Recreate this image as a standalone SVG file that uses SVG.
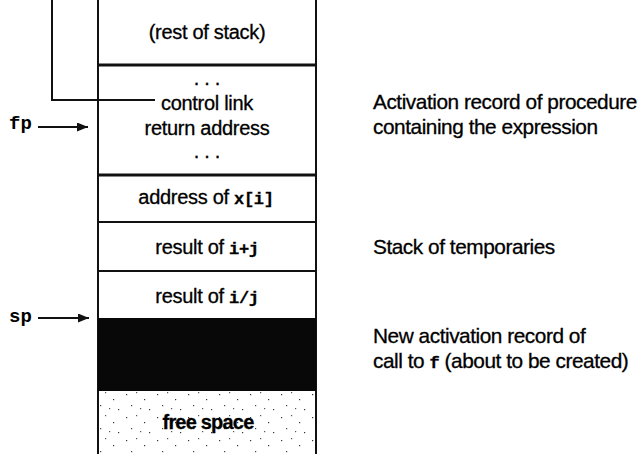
<svg xmlns="http://www.w3.org/2000/svg" width="643" height="454" viewBox="0 0 643 454">
<style>
.t{font-family:"Liberation Sans",Arial,sans-serif;font-size:20px;fill:#000;letter-spacing:-0.3px;stroke:#000;stroke-width:0.3px}
.a{font-size:20.8px;letter-spacing:-0.45px}
.c{text-anchor:middle}
.m{font-family:"Liberation Mono","Courier New",monospace;font-weight:bold;font-size:17px}
.lbl{font-family:"Liberation Mono","Courier New",monospace;font-weight:bold;font-size:19px;fill:#000}
.edge{stroke:#111;fill:none;stroke-width:2}
.thick{stroke:#111;stroke-width:3}
.thin{stroke:#111;stroke-width:2}
</style>
<defs>
<marker id="ah" viewBox="0 0 11 9" refX="11" refY="4.5" markerWidth="11" markerHeight="9" markerUnits="userSpaceOnUse" orient="auto">
<path d="M0,0 L11,4.5 L0,9 Z" fill="#111"/>
</marker>
<pattern id="stip" width="31" height="23" patternUnits="userSpaceOnUse">
<rect width="31" height="23" fill="#fff"/>
<rect x="2" y="3" width="1.2" height="1.2" fill="#333"/>
<rect x="12" y="1" width="1.2" height="1.2" fill="#555"/>
<rect x="20" y="8" width="1.2" height="1.2" fill="#333"/>
<rect x="7" y="14" width="1.2" height="1.2" fill="#444"/>
<rect x="25" y="18" width="1.2" height="1.2" fill="#333"/>
<rect x="16" y="17" width="1.2" height="1.2" fill="#555"/>
</pattern>
</defs>

<g id="stack-frame">
<line class="thin" x1="98" y1="0" x2="98" y2="454"/>
<line class="thin" x1="316" y1="0" x2="316" y2="454"/>
</g>

<g id="rest-of-stack">
<text class="t c" x="207" y="39">(rest of stack)</text>
<line class="thick" x1="98" y1="65" x2="316" y2="65"/>
</g>

<g id="activation-record">
<text class="t c" x="207" y="85">. . .</text>
<text class="t c" x="207" y="110">control link</text>
<text class="t c" x="207" y="135">return address</text>
<text class="t c" x="207" y="158">. . .</text>
<line class="thick" x1="98" y1="175" x2="316" y2="175"/>
</g>

<g id="address-xi">
<text class="t c" x="206" y="204">address of <tspan class="m">x[i]</tspan></text>
<line class="thin" x1="98" y1="222" x2="316" y2="222"/>
</g>

<g id="result-iplusj">
<text class="t c" x="207" y="254">result of <tspan class="m">i+j</tspan></text>
<line class="thin" x1="98" y1="271" x2="316" y2="271"/>
</g>

<g id="result-idivj">
<text class="t c" x="207" y="303">result of <tspan class="m">i/j</tspan></text>
</g>

<g id="new-activation-record">
<rect x="98" y="318" width="218" height="73" fill="#080808"/>
</g>

<g id="free-space">
<rect x="99" y="391" width="216" height="63" fill="url(#stip)"/>
<text class="t c" x="208" y="429" style="font-weight:bold;letter-spacing:-0.8px">free space</text>
</g>

<g id="fp-label"><text class="lbl" x="9" y="129">fp</text></g>
<g id="sp-label"><text class="lbl" x="9" y="322">sp</text></g>

<g id="connectors">
<path class="edge" d="M52,0 V100 H155"/>
<line class="edge" x1="38" y1="127" x2="88" y2="127" marker-end="url(#ah)"/>
<line class="edge" x1="38" y1="318" x2="89" y2="318" marker-end="url(#ah)"/>
</g>

<g id="annotations">
<text class="t a" x="373" y="109">Activation record of procedure</text>
<text class="t a" x="373" y="134">containing the expression</text>
<text class="t a" x="373" y="254">Stack of temporaries</text>
<text class="t a" x="373" y="343">New activation record of</text>
<text class="t a" x="373" y="368">call to <tspan class="m">f</tspan> (about to be created)</text>
</g>
</svg>
